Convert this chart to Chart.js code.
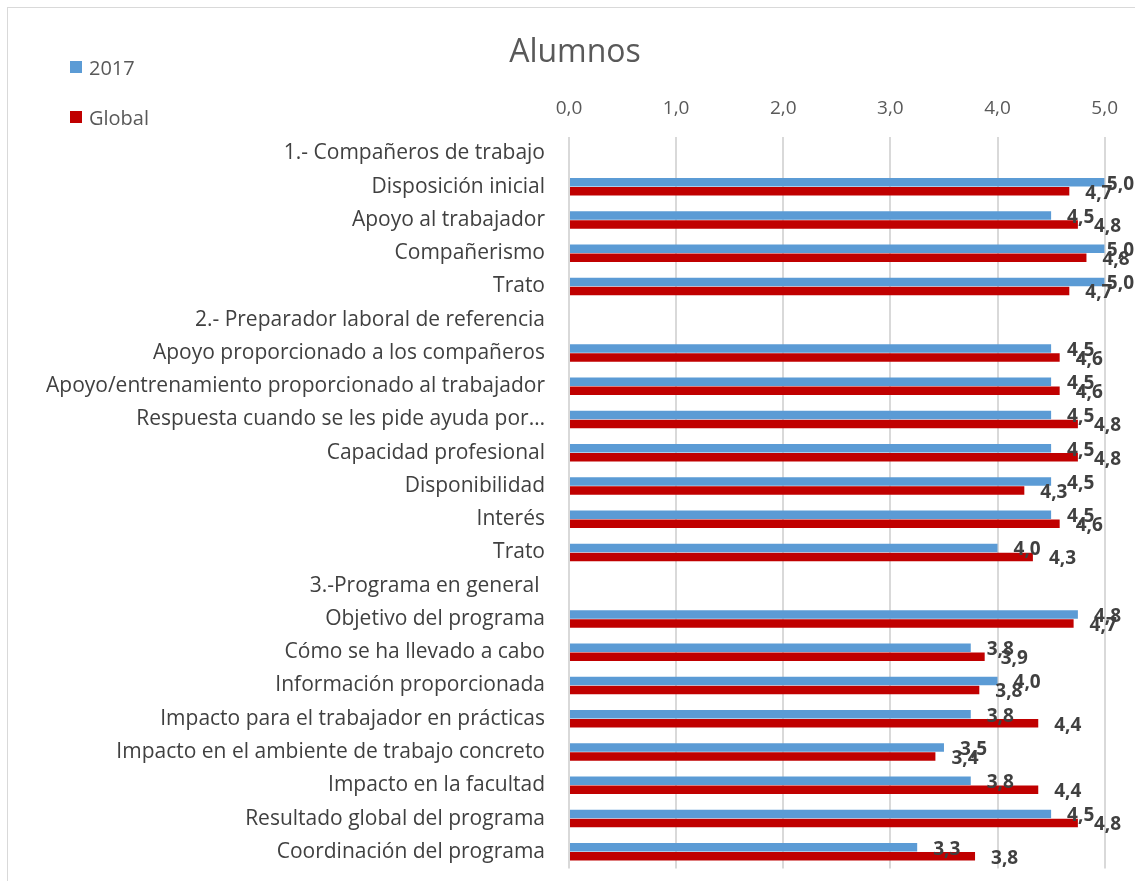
<!DOCTYPE html>
<html>
<head>
<meta charset="utf-8">
<script src="https://cdn.jsdelivr.net/npm/chart.js@4/dist/chart.umd.min.js"></script>
<style>
  body { margin: 0; background: #fff; width: 1135px; height: 881px; overflow: hidden; position: relative; font-family: "Open Sans", sans-serif; }
  #frame { position: absolute; left: 7px; top: 7px; width: 1140px; height: 890px; border: 1px solid #d9d9d9; box-sizing: border-box; }
  #wrap { position: absolute; left: 8px; top: 8px; width: 1127px; height: 889px; }
  #title { position: absolute; left: 475px; width: 200px; top: 29px; text-align: center; font-size: 32px; line-height: 42px; color: #595959; }
  #legend { position: absolute; left: 70px; top: 42px; font-size: 20px; color: #595959; }
  #legend div { height: 50px; display: flex; align-items: center; }
  #legend span.box { display: inline-block; width: 12px; height: 12px; margin-right: 7px; }
</style>
</head>
<body>
<div id="frame"></div>
<div id="wrap"><canvas id="graph"></canvas></div>
<div id="title">Alumnos</div>
<div id="legend"></div>
<script>
let categories = [
  "1.- Compañeros de trabajo",
  "Disposición inicial",
  "Apoyo al trabajador",
  "Compañerismo",
  "Trato",
  "2.- Preparador laboral de referencia",
  "Apoyo proporcionado a los compañeros",
  "Apoyo/entrenamiento proporcionado al trabajador",
  "Respuesta cuando se les pide ayuda por…",
  "Capacidad profesional",
  "Disponibilidad",
  "Interés",
  "Trato",
  "3.-Programa en general ",
  "Objetivo del programa",
  "Cómo se ha llevado a cabo",
  "Información proporcionada",
  "Impacto para el trabajador en prácticas",
  "Impacto en el ambiente de trabajo concreto",
  "Impacto en la facultad",
  "Resultado global del programa",
  "Coordinación del programa"
];
let values2017 = [null, 5.0, 4.5, 5.0, 5.0, null, 4.5, 4.5, 4.5, 4.5, 4.5, 4.5, 4.0, null, 4.75, 3.75, 4.0, 3.75, 3.5, 3.75, 4.5, 3.25];
let valuesGlobal = [null, 4.67, 4.75, 4.83, 4.67, null, 4.58, 4.58, 4.75, 4.75, 4.25, 4.58, 4.33, null, 4.71, 3.88, 3.83, 4.38, 3.42, 4.38, 4.75, 3.79];
let seriesNames = ["2017", "Global"];
let seriesColors = ["#5b9bd5", "#c00000"];
let xTicks = [0, 1, 2, 3, 4, 5];

function fmt(v) { return v.toFixed(1).replace(".", ","); }

// legend
let lg = document.getElementById("legend");
seriesNames.forEach((n, i) => {
  let d = document.createElement("div");
  d.innerHTML = '<span class="box" style="background:' + seriesColors[i] + '"></span>' + n;
  lg.appendChild(d);
});

// value labels next to bar ends
const barLabels = {
  id: "barLabels",
  afterDatasetsDraw(chart) {
    let ctx = chart.ctx;
    ctx.save();
    ctx.font = "bold 19px 'Open Sans', sans-serif";
    ctx.fillStyle = "#404040";
    ctx.textBaseline = "middle";
    ctx.textAlign = "left";
    chart.data.datasets.forEach((ds, di) => {
      let meta = chart.getDatasetMeta(di);
      meta.data.forEach((bar, i) => {
        let v = ds.data[i];
        if (v === null) return;
        let txt = fmt(v);
        let w = ctx.measureText(txt).width;
        let x = bar.x + 16;
        if (x + w > chart.width - 1) x = chart.width - 1 - w;
        ctx.fillText(txt, x, bar.y + 2);
      });
    });
    ctx.restore();
  }
};

new Chart(document.getElementById("graph"), {
  type: "bar",
  data: {
    labels: categories,
    datasets: [
      { label: seriesNames[0], data: values2017, backgroundColor: seriesColors[0], categoryPercentage: 0.54, barPercentage: 0.95 },
      { label: seriesNames[1], data: valuesGlobal, backgroundColor: seriesColors[1], categoryPercentage: 0.54, barPercentage: 0.95 }
    ]
  },
  plugins: [barLabels],
  options: {
    indexAxis: "y",
    responsive: true,
    maintainAspectRatio: false,
    animation: false,
    layout: { padding: { top: 72, right: 24, bottom: 0 } },
    plugins: {
      legend: { display: false },
      tooltip: { enabled: false },
      title: { display: false }
    },
    scales: {
      x: {
        position: "top",
        min: 0,
        max: 5,
        afterBuildTicks: (scale) => { scale.ticks = xTicks.map(v => ({ value: v })); },
        ticks: {
          color: "#595959",
          font: { size: 19, family: "'Open Sans', sans-serif" },
          padding: 17,
          callback: (v) => fmt(v)
        },
        grid: { color: "#d9d9d9", lineWidth: 2, drawTicks: false },
        border: { display: false }
      },
      y: {
        afterFit: (scale) => { scale.width = 561; },
        ticks: {
          color: "#404040",
          font: { size: 21, family: "'Open Sans', sans-serif" },
          padding: 16,
          autoSkip: false
        },
        grid: { display: false },
        border: { display: false }
      }
    }
  }
});
</script>
</body>
</html>
